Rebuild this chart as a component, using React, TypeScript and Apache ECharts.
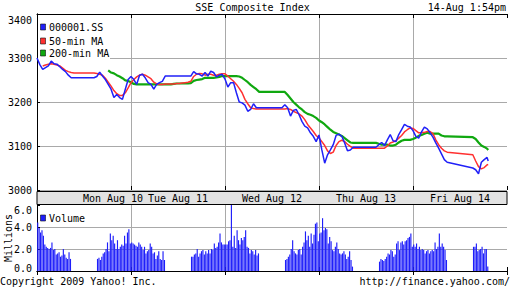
import React, { useEffect, useRef } from "react";
import * as echarts from "echarts";

// ---- data ----
const TITLE = "SSE Composite Index";
const STAMP = "14-Aug 1:54pm";
const DAYS = ["Mon Aug 10", "Tue Aug 11", "Wed Aug 12", "Thu Aug 13", "Fri Aug 14"];
const SERIES_NAMES = ["000001.SS", "50-min MA", "200-min MA"];
const DAY_MIN = 330; // 9:30 -> 15:00 on the trading clock
const PM_START = 210; // 13:00
const PRICE_MIN = 3000;
const PRICE_MAX = 3400;
const PRICE_STEP = 100;
const VOL_MAX = 6;
const VOL_STEP = 2;

// trading-clock minutes since Mon 9:30 (10-minute samples, last one 13:54 Fri)
const TIMES: number[] = [...Array.from({ length: 159 }, (_, i) => i * 10), 1584];

const N = null;
const PRICE: (number | null)[] = [
  // Mon
  3300, 3285, 3274, 3278, 3282, 3293, 3287, 3286, 3280, 3274, 3269, 3261, 3255,
  3255, 3255, 3255, 3255, 3255, 3255, 3255, 3255,
  3258, 3268, 3259, 3251, 3240, 3229, 3210, 3217, 3210, 3206, 3229, 3251,
  // Tue
  3258, 3251, 3240, 3261, 3263, 3255, 3244, 3240, 3229, 3240, 3244, 3247, 3259,
  3259, 3259, 3259, 3259, 3259, 3259, 3259, 3259,
  3259, 3269, 3264, 3263, 3259, 3267, 3259, 3270, 3267, 3257, 3261, 3263,
  // Wed
  3252, 3234, 3244, 3244, 3221, 3200, 3198, 3193, 3179, 3183, 3196, 3187, 3187,
  3187, 3187, 3187, 3187, 3187, 3187, 3187, 3187,
  3194, 3187, 3168, 3181, 3183, 3171, 3156, 3145, 3141, 3130, 3122, 3110,
  // Thu
  3125, 3091, 3061, 3080, 3091, 3103, 3124, 3127, 3122, 3107, 3089, 3091, 3097,
  3097, 3097, 3097, 3097, 3097, 3097, 3097, 3097,
  3103, 3108, 3101, 3114, 3126, 3112, 3110, 3126, 3137, 3149, 3145, 3143,
  // Fri
  3135, 3122, 3118, 3132, 3143, 3139, 3130, 3120, 3107, 3095, 3082, 3069, 3063,
  N, N, N, N, N, N, N, N,
  3050, 3046, 3037, 3063, 3069, 3074, 3066,
];

const MA50: (number | null)[] = [
  N, N, 3282, 3284, 3286, 3287, 3286, 3284, 3282, 3277, 3272, 3269, 3267,
  3266, 3266, 3266, 3266, 3266, 3266, 3266, 3266,
  3265, 3263, 3261, 3254, 3245, 3236, 3226, 3219, 3215, 3215, 3221, 3232,
  3244, 3251, 3257, 3261, 3263, 3261, 3257, 3253, 3245, 3241, 3240, 3240, 3241,
  3241, 3241, 3241, 3242, 3242, 3243, 3244, 3245,
  3247, 3258, 3263, 3265, 3264, 3261, 3263, 3263, 3261, 3261, 3263, 3264,
  3264, 3259, 3253, 3247, 3240, 3231, 3221, 3206, 3196, 3187, 3185, 3184, 3184,
  3184, 3184, 3184, 3184, 3184, 3184, 3184, 3184,
  3184, 3185, 3183, 3179, 3176, 3173, 3168, 3160, 3149, 3141, 3133, 3124,
  3118, 3110, 3101, 3089, 3083, 3086, 3101, 3110, 3113, 3110, 3104, 3099, 3095,
  3095, 3095, 3095, 3095, 3095, 3095, 3095, 3095,
  3095, 3095, 3095, 3100, 3107, 3109, 3112, 3118, 3124, 3132, 3137, 3141,
  3140, 3135, 3130, 3130, 3131, 3133, 3133, 3128, 3114, 3103, 3095, 3089, 3086,
  N, N, N, N, N, N, N, N,
  3080, 3066, 3053, 3048, 3051, 3057, 3058,
];

const MA200: (number | null)[] = [
  N, N, N, N, N, N, N, N, N, N, N, N, N,
  N, N, N, N, N, N, N, N,
  N, N, N, N, 3272, 3267, 3265, 3261, 3258, 3254, 3249, 3248,
  3245, 3241, 3240, 3240, 3240, 3240, 3240, 3240, 3240, 3240, 3240, 3240, 3240,
  3240, 3240, 3241, 3242, 3242, 3242, 3242, 3242,
  3243, 3248, 3250, 3251, 3252, 3255, 3255, 3255, 3255, 3256, 3257, 3259,
  3259, 3259, 3259, 3259, 3259, 3258, 3255, 3250, 3245, 3239, 3234, 3229, 3223,
  3223, 3223, 3223, 3223, 3223, 3223, 3223, 3223,
  3223, 3216, 3208, 3200, 3194, 3188, 3183, 3177, 3173, 3171, 3168, 3164,
  3158, 3154, 3149, 3143, 3137, 3132, 3129, 3126, 3123, 3118, 3113, 3108, 3107,
  3107, 3107, 3107, 3107, 3107, 3107, 3107, 3107,
  3105, 3103, 3103, 3103, 3101, 3101, 3103, 3108, 3112, 3114, 3114, 3114,
  3116, 3119, 3123, 3125, 3128, 3130, 3128, 3128, 3128, 3128, 3124, 3122, 3122,
  N, N, N, N, N, N, N, N,
  3120, 3116, 3108, 3101, 3098, 3094, 3091,
];

// 5-minute volume, millions: morning and afternoon sessions per day
const VOL_AM: number[][] = [
  [4.4, 3.9, 3.5, 3.7, 3.2, 2.4, 2.2, 2.1, 2.0, 2.1, 2.6, 1.9, 2.0, 1.5, 1.6, 1.7, 1.3, 1.4, 2.0, 1.5, 1.2, 1.1, 1.7, 1.1],
  [2.6, 2.5, 2.4, 2.3, 2.2, 2.6, 2.4, 2.2, 1.9, 2.2, 1.6, 1.8, 1.9, 2.5, 2.2, 1.6, 1.7, 1.1, 1.4, 1.8, 1.1, 1.0, 1.8, 1.0],
  [2.4, 2.4, 2.7, 2.8, 6.0, 2.2, 3.2, 2.1, 3.7, 2.8, 2.4, 3.0, 2.8, 3.1, 3.7, 2.2, 2.1, 1.6, 1.9, 1.8, 1.5, 1.9, 1.4, 1.6],
  [3.4, 3.5, 4.8, 3.7, 3.9, 3.8, 2.5, 3.1, 2.7, 1.9, 1.8, 2.2, 2.6, 2.0, 1.6, 1.5, 1.6, 1.8, 1.5, 1.1, 1.3, 1.8, 1.0, 0.4],
  [2.4, 2.2, 2.5, 2.0, 2.2, 1.9, 2.0, 1.9, 1.6, 1.8, 1.9, 1.6, 1.8, 1.9, 1.8, 2.6, 2.0, 2.2, 3.4, 2.2, 2.5, 2.2, 1.9, 1.0],
];
const VOL_PM: number[][] = [
  [1.1, 1.2, 1.0, 1.3, 1.6, 1.7, 2.0, 2.6, 1.8, 3.4, 2.8, 3.2, 2.5, 2.0, 2.8, 2.0, 2.2, 2.4, 2.3, 3.2, 2.5, 3.5, 3.8, 2.5],
  [1.3, 1.3, 1.5, 1.6, 2.0, 1.3, 1.6, 1.8, 1.9, 1.5, 1.8, 1.6, 1.9, 1.6, 2.0, 1.9, 2.5, 2.1, 2.2, 2.6, 3.4, 2.6, 2.4, 2.4],
  [1.0, 1.1, 1.3, 1.5, 2.0, 2.8, 1.8, 1.6, 1.5, 1.9, 2.0, 1.5, 2.2, 2.6, 3.6, 2.8, 3.2, 2.2, 3.4, 2.5, 3.3, 4.3, 4.4, 2.7],
  [0.85, 1.1, 1.0, 0.9, 1.1, 1.3, 1.6, 1.5, 1.9, 1.8, 1.3, 1.5, 2.5, 2.7, 1.9, 2.6, 2.7, 2.4, 2.7, 2.8, 3.0, 3.1, 3.4, 2.2],
  [2.2, 2.2, 2.5, 1.8, 1.9, 2.0, 2.2, 1.6, 2.0, 2.0, 0.4],
];

// ---- styles ----
const MONO = '"DejaVu Sans Mono", "Liberation Mono", monospace';
const C_BLUE = "#2020f8";
const C_RED = "#ff3030";
const C_GREEN = "#10a810";
const C_VOL = "#1e1efa";
const C_GRID = "#a9a9a9";
const C_BAND = "#e2e2e2";

function pairs(vals: (number | null)[]) {
  const out: [number, number][] = [];
  vals.forEach((v, i) => {
    if (v !== null && v !== undefined) out.push([TIMES[i], v]);
  });
  return out;
}

function volumeBars() {
  const out: [number, number][] = [];
  for (let d = 0; d < DAYS.length; d++) {
    VOL_AM[d].forEach((v, i) => out.push([d * DAY_MIN + i * 5 + 2.5, v]));
    VOL_PM[d].forEach((v, i) => out.push([d * DAY_MIN + PM_START + i * 5 + 2.5, v]));
  }
  return out;
}

export default function App() {
  const ref = useRef<HTMLDivElement>(null);

  useEffect(() => {
    if (!ref.current) return;
    const chart = echarts.init(ref.current, null, { renderer: "svg" });
    const XMAX = DAY_MIN * DAYS.length;
    const axisBlack = { show: true, lineStyle: { color: "#000", width: 1 } };
    const tickIn = { show: true, inside: true, length: 4, lineStyle: { color: "#000" } };
    const gridSplit = { show: true, showMinLine: false, showMaxLine: false, lineStyle: { color: C_GRID, width: 1 } };
    const labelFont = { fontFamily: MONO, fontSize: 10, color: "#000" };

    const txt = (text: string, x: number, y: number, align: string, extra: any = {}) => ({
      type: "text",
      x,
      y,
      z: 10,
      ...extra,
      style: {
        text,
        font: `10px ${MONO}`,
        fill: "#000",
        align,
        textAlign: align,
        verticalAlign: "middle",
        textVerticalAlign: "middle",
      },
    });
    const swatch = (color: string, x: number, y: number) => ({
      type: "rect",
      z: 10,
      shape: { x, y, width: 5, height: 6 },
      style: { fill: color, stroke: "#111", lineWidth: 0.6 },
    });

    const option: any = {
      animation: false,
      backgroundColor: "#fff",
      grid: [
        { left: 37, top: 14, width: 470, height: 176 },
        { left: 37, top: 205, width: 470, height: 66 },
      ],
      xAxis: [
        {
          gridIndex: 0, type: "value", min: 0, max: XMAX, interval: DAY_MIN, position: "bottom",
          axisLine: { show: false }, axisTick: tickIn, axisLabel: { show: false }, splitLine: gridSplit,
        },
        {
          gridIndex: 0, type: "value", min: 0, max: XMAX, interval: DAY_MIN, position: "top",
          axisLine: axisBlack, axisTick: tickIn, axisLabel: { show: false }, splitLine: { show: false },
        },
        {
          gridIndex: 0, type: "value", min: 0, max: XMAX, interval: DAY_MIN / 2, position: "bottom",
          axisLine: { show: false }, axisTick: { show: false }, splitLine: { show: false },
          axisLabel: {
            show: true, margin: 2, ...labelFont, lineHeight: 12,
            showMinLabel: false, showMaxLabel: false,
            formatter: (v: number) => {
              const k = (v - DAY_MIN / 2) / DAY_MIN;
              if (!Number.isInteger(k) || k < 0 || k >= DAYS.length) return "";
              return k === 0 ? `{mon|${DAYS[0]}}` : DAYS[k];
            },
            rich: { mon: { ...labelFont, padding: [0, 0, 0, 58] } },
          },
        },
        {
          gridIndex: 1, type: "value", min: 0, max: XMAX, interval: DAY_MIN, position: "bottom",
          axisLine: axisBlack, axisTick: tickIn, axisLabel: { show: false }, splitLine: gridSplit,
        },
        {
          gridIndex: 1, type: "value", min: 0, max: XMAX, interval: DAY_MIN, position: "top",
          axisLine: axisBlack, axisTick: tickIn, axisLabel: { show: false }, splitLine: { show: false },
        },
      ],
      yAxis: [
        {
          gridIndex: 0, type: "value", min: PRICE_MIN, max: PRICE_MAX, interval: PRICE_STEP, position: "left",
          axisLine: axisBlack, axisTick: { show: false },
          axisLabel: {
            margin: 5, ...labelFont,
            formatter: (v: number) => (v === PRICE_MAX ? `{top|${v}}` : String(v)),
            rich: { top: { ...labelFont, padding: [13, 0, 0, 0] } },
          },
          splitLine: { show: true, showMaxLine: false, lineStyle: { color: C_GRID, width: 1 } },
        },
        {
          gridIndex: 0, type: "value", min: PRICE_MIN, max: PRICE_MAX, interval: PRICE_STEP, position: "right",
          axisLine: axisBlack, axisTick: { show: true, length: 3, lineStyle: { color: "#000" } },
          axisLabel: { show: false }, splitLine: { show: false },
        },
        {
          gridIndex: 1, type: "value", min: 0, max: VOL_MAX, interval: VOL_STEP, position: "left",
          axisLine: axisBlack, axisTick: { show: false },
          axisLabel: {
            margin: 5, ...labelFont,
            formatter: (v: number) =>
              v === VOL_MAX ? `{top|${v.toFixed(1)}}` : v === 0 ? `{bot|${v.toFixed(1)}}` : v.toFixed(1),
            rich: {
              top: { ...labelFont, padding: [11, 0, 0, 0] },
              bot: { ...labelFont, padding: [0, 0, 5, 0] },
            },
          },
          splitLine: { show: true, showMinLine: false, showMaxLine: false, lineStyle: { color: C_GRID, width: 1 } },
        },
        {
          gridIndex: 1, type: "value", min: 0, max: VOL_MAX, interval: VOL_STEP, position: "right",
          axisLine: axisBlack, axisTick: { show: true, length: 3, lineStyle: { color: "#000" } },
          axisLabel: { show: false }, splitLine: { show: false },
        },
      ],
      series: [
        {
          name: SERIES_NAMES[2], type: "line", xAxisIndex: 0, yAxisIndex: 0, data: pairs(MA200),
          symbol: "none", lineStyle: { color: C_GREEN, width: 2.2 }, z: 3,
        },
        {
          name: SERIES_NAMES[1], type: "line", xAxisIndex: 0, yAxisIndex: 0, data: pairs(MA50),
          symbol: "none", lineStyle: { color: C_RED, width: 1.5 }, z: 4,
        },
        {
          name: SERIES_NAMES[0], type: "line", xAxisIndex: 0, yAxisIndex: 0, data: pairs(PRICE),
          symbol: "none", lineStyle: { color: C_BLUE, width: 1.5 }, z: 5,
        },
        {
          name: "Volume", type: "bar", xAxisIndex: 3, yAxisIndex: 2, data: volumeBars(),
          barWidth: 1.15, itemStyle: { color: C_VOL }, z: 3,
        },
      ],
      graphic: [
        // date band between panels
        {
          type: "rect", z: -5,
          shape: { x: 37, y: 191.5, width: 470, height: 13 },
          style: { fill: C_BAND, stroke: "#000", lineWidth: 1 },
        },
        // legend backdrop
        {
          type: "rect", z: 1,
          shape: { x: 38, y: 15, width: 72, height: 46 },
          style: { fill: "#fff" },
        },
        swatch(C_BLUE, 40.5, 24),
        swatch(C_RED, 40.5, 38),
        swatch(C_GREEN, 40.5, 50),
        txt(SERIES_NAMES[0], 49, 27.5, "left"),
        txt(SERIES_NAMES[1], 49, 41, "left"),
        txt(SERIES_NAMES[2], 49, 53.5, "left"),
        swatch(C_VOL, 40.5, 215),
        txt("Volume", 49, 218.5, "left"),
        txt(TITLE, 252.5, 7, "center"),
        txt(STAMP, 506, 7, "right"),
        txt("Copyright 2009 Yahoo! Inc.", 0, 281, "left"),
        txt("http://finance.yahoo.com/", 510, 281, "right"),
        txt("Millions", 8, 238, "center", { rotation: Math.PI / 2 }),
      ],
    };

    chart.setOption(option);
    return () => chart.dispose();
  }, []);

  return (
    <div
      ref={ref}
      style={{ position: "absolute", left: 0, top: 0, width: 512, height: 288, background: "#fff" }}
    />
  );
}
